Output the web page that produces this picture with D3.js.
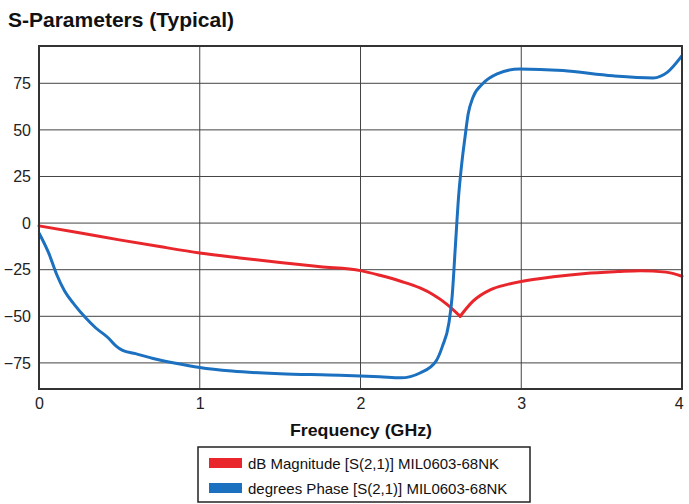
<!DOCTYPE html>
<html>
<head>
<meta charset="utf-8">
<script src="https://cdn.jsdelivr.net/npm/d3@7"></script>
<style>
body { margin: 0; background: #fff; }
svg { display: block; font-family: "Liberation Sans", Arial, sans-serif; }
</style>
</head>
<body>
<div id="chart"></div>
<script>
(function() {

const w = 689;
const h = 504;
const margin = {left: 39, right: 7, top: 46, bottom: 115};

// dB magnitude [S(2,1)] (sharp dip at 2.62 GHz)
const magFreq = [0, 0.25, 0.5, 0.75, 1, 1.25, 1.5, 1.75, 2, 2.12, 2.25, 2.37, 2.45, 2.54, 2.62, 2.7, 2.81, 2.91, 3, 3.2, 3.4, 3.6, 3.74, 3.9, 4];
const magDb = [-1.5, -5.2, -9, -12.6, -16, -18.7, -21.2, -23.4, -25.5, -28, -31.2, -34.8, -38.3, -43.7, -50, -41.9, -35.7, -33, -31.3, -28.8, -27, -26, -25.5, -26.3, -28.5];
const magDipIndex = 14;

// degrees phase [S(2,1)]
const phaseFreq = [0, 0.06, 0.11, 0.16, 0.22, 0.29, 0.35, 0.43, 0.48, 0.52, 0.6, 0.71, 0.85, 1, 1.2, 1.5, 1.8, 2, 2.12, 2.25, 2.37, 2.47, 2.51, 2.55, 2.57, 2.59, 2.61, 2.63, 2.65, 2.67, 2.7, 2.76, 2.85, 2.99, 3.26, 3.57, 3.82, 3.91, 4];
const phaseDeg = [-5.3, -16, -27.6, -36.6, -43.7, -50.8, -56, -61.5, -66, -68.3, -70, -72.6, -75.2, -77.5, -79.4, -80.8, -81.5, -82, -82.4, -83, -80.4, -74, -66, -53.6, -39.4, -12.7, 14, 32, 46, 58.6, 67.5, 74.7, 80, 82.7, 81.8, 79, 77.9, 81, 89.8];

const xTicks = [0, 1, 2, 3, 4];
const yTicks = [-75, -50, -25, 0, 25, 50, 75];

const seriesNames = ["dB Magnitude [S(2,1)] MIL0603-68NK", "degrees Phase [S(2,1)] MIL0603-68NK"];
const seriesColors = ["#e9262b", "#1b70bf"];

const svg = d3.select("#chart")
    .append("svg")
    .attr("width", w)
    .attr("height", h);

const xScale = d3.scaleLinear()
    .domain([0, 4])
    .range([margin.left, w - margin.right]);

const yScale = d3.scaleLinear()
    .domain([-89, 95])
    .range([h - margin.bottom, margin.top]);

// title
svg.append("text")
    .attr("x", 8)
    .attr("y", 27)
    .attr("font-size", 21)
    .attr("font-weight", "bold")
    .attr("fill", "#111")
    .text("S-Parameters (Typical)");

// grid
svg.append("g")
    .selectAll("line")
    .data(xTicks.slice(1, -1))
    .enter()
    .append("line")
    .attr("x1", function(d) { return xScale(d); })
    .attr("x2", function(d) { return xScale(d); })
    .attr("y1", margin.top)
    .attr("y2", h - margin.bottom)
    .attr("stroke", "#444")
    .attr("stroke-width", 1);

svg.append("g")
    .selectAll("line")
    .data(yTicks)
    .enter()
    .append("line")
    .attr("x1", margin.left)
    .attr("x2", w - margin.right)
    .attr("y1", function(d) { return yScale(d); })
    .attr("y2", function(d) { return yScale(d); })
    .attr("stroke", "#444")
    .attr("stroke-width", 1);

// axes (labels only)
const xAxis = d3.axisBottom(xScale).tickValues(xTicks).tickFormat(d3.format("d")).tickSize(0).tickPadding(9);
svg.append("g")
    .attr("transform", `translate(0,${h - margin.bottom})`)
    .call(xAxis)
    .call(function(g) { g.select(".domain").remove(); })
    .selectAll("text")
    .attr("font-size", 16)
    .attr("font-family", "Liberation Sans, Arial, sans-serif")
    .attr("fill", "#222")
    .filter(function(d) { return d === 4; })
    .attr("dx", "-0.2em");

const yAxis = d3.axisLeft(yScale).tickValues(yTicks).tickSize(0).tickPadding(8);
svg.append("g")
    .attr("transform", `translate(${margin.left},0)`)
    .call(yAxis)
    .call(function(g) { g.select(".domain").remove(); })
    .selectAll("text")
    .attr("font-size", 16)
    .attr("font-family", "Liberation Sans, Arial, sans-serif")
    .attr("fill", "#222");

// lines
const line = d3.line()
    .x(function(d) { return xScale(d[0]); })
    .y(function(d) { return yScale(d[1]); })
    .curve(d3.curveMonotoneX);

const plot = svg.append("g");

const magPts = magFreq.map(function(f, i) { return [f, magDb[i]]; });
// two halves so the dip stays a sharp point
[magPts.slice(0, magDipIndex + 1), magPts.slice(magDipIndex)].forEach(function(pts) {
    plot.append("path")
        .datum(pts)
        .attr("d", line)
        .attr("fill", "none")
        .attr("stroke", seriesColors[0])
        .attr("stroke-width", 3)
        .attr("stroke-linejoin", "round")
        .attr("stroke-linecap", "round");
});

plot.append("path")
    .datum(phaseFreq.map(function(f, i) { return [f, phaseDeg[i]]; }))
    .attr("d", line)
    .attr("fill", "none")
    .attr("stroke", seriesColors[1])
    .attr("stroke-width", 3)
    .attr("stroke-linejoin", "round");

// frame
svg.append("rect")
    .attr("x", margin.left)
    .attr("y", margin.top)
    .attr("width", w - margin.left - margin.right)
    .attr("height", h - margin.top - margin.bottom)
    .attr("fill", "none")
    .attr("stroke", "#333")
    .attr("stroke-width", 2);

// x label
svg.append("text")
    .attr("x", 361)
    .attr("y", 436)
    .attr("text-anchor", "middle")
    .attr("font-size", 17)
    .attr("font-weight", "bold")
    .attr("fill", "#111")
    .attr("textLength", 142)
    .attr("lengthAdjust", "spacingAndGlyphs")
    .text("Frequency (GHz)");

// legend
const legend = svg.append("g");
legend.append("rect")
    .attr("x", 198)
    .attr("y", 447)
    .attr("width", 332)
    .attr("height", 55)
    .attr("fill", "#fff")
    .attr("stroke", "#222")
    .attr("stroke-width", 1.5);

const items = legend.selectAll("g.item")
    .data(seriesNames)
    .enter()
    .append("g")
    .attr("class", "item")
    .attr("transform", function(d, i) { return `translate(0,${i * 25})`; });

items.append("rect")
    .attr("x", 209)
    .attr("y", 458)
    .attr("width", 33)
    .attr("height", 10)
    .attr("fill", function(d, i) { return seriesColors[i]; });

items.append("text")
    .attr("x", 248)
    .attr("y", 469)
    .attr("font-size", 15)
    .attr("fill", "#111")
    .text(function(d) { return d; });

})();
</script>
</body>
</html>
